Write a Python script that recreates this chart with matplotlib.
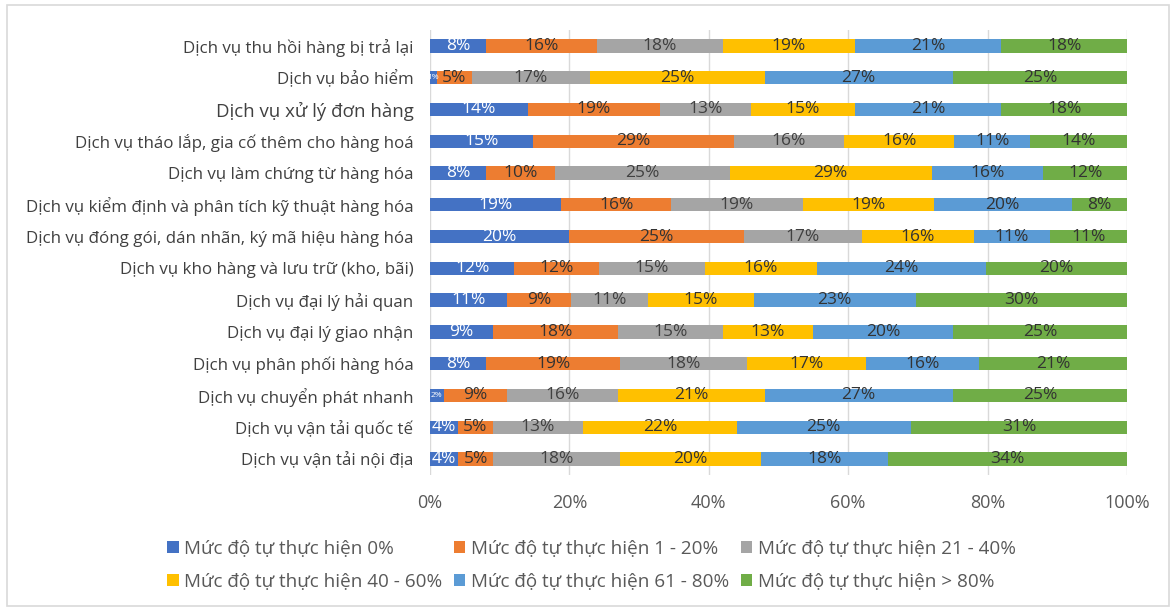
import numpy as np
import matplotlib.pyplot as plt
from matplotlib.patches import Rectangle

plt.rcParams['font.family'] = ['Open Sans', 'DejaVu Sans']

# danh muc dich vu (tu tren xuong duoi)
categories = [
    "Dịch vụ thu hồi hàng bị trả lại",
    "Dịch vụ bảo hiểm",
    "Dịch vụ xử lý đơn hàng",
    "Dịch vụ tháo lắp, gia cố thêm cho hàng hoá",
    "Dịch vụ làm chứng từ hàng hóa",
    "Dịch vụ kiểm định và phân tích kỹ thuật hàng hóa",
    "Dịch vụ đóng gói, dán nhãn, ký mã hiệu hàng hóa",
    "Dịch vụ kho hàng và lưu trữ (kho, bãi)",
    "Dịch vụ đại lý hải quan",
    "Dịch vụ đại lý giao nhận",
    "Dịch vụ phân phối hàng hóa",
    "Dịch vụ chuyển phát nhanh",
    "Dịch vụ vận tải quốc tế",
    "Dịch vụ vận tải nội địa",
]

# % theo tung muc do tu thuc hien
muc_0 = [8, 1, 14, 15, 8, 19, 20, 12, 11, 9, 8, 2, 4, 4]
muc_1_20 = [16, 5, 19, 29, 10, 16, 25, 12, 9, 18, 19, 9, 5, 5]
muc_21_40 = [18, 17, 13, 16, 25, 19, 17, 15, 11, 15, 18, 16, 13, 18]
muc_40_60 = [19, 25, 15, 16, 29, 19, 16, 16, 15, 13, 17, 21, 22, 20]
muc_61_80 = [21, 27, 21, 11, 16, 20, 11, 24, 23, 20, 16, 27, 25, 18]
muc_80 = [18, 25, 18, 14, 12, 8, 11, 20, 30, 25, 21, 25, 31, 34]

series = [muc_0, muc_1_20, muc_21_40, muc_40_60, muc_61_80, muc_80]
names = ["Mức độ tự thực hiện 0%", "Mức độ tự thực hiện 1 - 20%",
         "Mức độ tự thực hiện 21 - 40%", "Mức độ tự thực hiện 40 - 60%",
         "Mức độ tự thực hiện 61 - 80%", "Mức độ tự thực hiện > 80%"]
colors = ['#4472C4', '#ED7D31', '#A5A5A5', '#FFC000', '#5B9BD5', '#70AD47']
label_colors = ['white', '#333333', '#404040', '#333333', '#333333', '#333333']

data = np.array(series, dtype=float)
shares = data / data.sum(axis=0) * 100

fig = plt.figure(figsize=(11.76, 6.13), dpi=100)
ax = fig.add_axes([0.3656, 0.2253, 0.5927, 0.7257])

y = np.arange(len(categories))
left = np.zeros(len(categories))
handles = []
for i in range(len(series)):
    bars = ax.barh(y, shares[i], left=left, height=0.42, color=colors[i], label=names[i], zorder=3)
    handles.append(bars)
    for j, b in enumerate(bars):
        fs = 12.5 if shares[i][j] >= 3 else 6
        ax.text(left[j] + shares[i][j] / 2, y[j], f"{series[i][j]}%", ha='center', va='center',
                fontsize=fs, color=label_colors[i], zorder=4)
    left += shares[i]

ax.set_ylim(len(categories) - 0.5, -0.5)
ax.set_xlim(0, 100)
ax.set_yticks(y)
ax.set_yticklabels(categories, fontsize=12.2, color='#404040')
for lab in ax.get_yticklabels():
    if lab.get_text() == "Dịch vụ xử lý đơn hàng":
        lab.set_fontsize(13.4)
ax.set_xticks([0, 20, 40, 60, 80, 100])
ax.set_xticklabels(["0%", "20%", "40%", "60%", "80%", "100%"], fontsize=13, color='#595959')
ax.tick_params(length=0, pad=14, axis='x')
ax.tick_params(length=0, pad=12, axis='y')
ax.grid(axis='x', color='#D9D9D9', linewidth=1, zorder=0)
for s in ax.spines.values():
    s.set_visible(False)

order = [0, 3, 1, 4, 2, 5]
leg = fig.legend([handles[k] for k in order], [names[k] for k in order], ncol=3,
                 loc='center', bbox_to_anchor=(0.503, 0.0775), frameon=False,
                 fontsize=13.6, handlelength=0.6, handleheight=0.6, handletextpad=0.3,
                 columnspacing=0.6, labelspacing=0.8)
for t in leg.get_texts():
    t.set_color('#595959')

fig.patches.append(Rectangle((0.006, 0.012), 0.988, 0.98, transform=fig.transFigure,
                             fill=False, edgecolor='#D9D9D9', linewidth=1.2))

fig.savefig("out.png", dpi=100)
